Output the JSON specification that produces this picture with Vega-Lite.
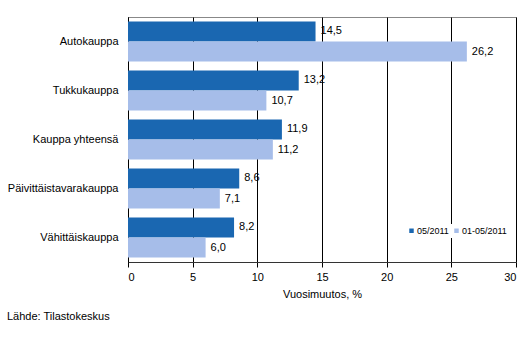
{
  "$schema": "https://vega.github.io/schema/vega-lite/v6.json",
  "width": 388,
  "height": 245,
  "autosize": {"type": "none"},
  "padding": {"left": 128, "top": 17, "right": 16, "bottom": 96},
  "background": "white",
  "config": {
    "font": "Liberation Sans",
    "locale": {"number": {"decimal": ",", "thousands": " ", "grouping": [3], "currency": ["", " €"]}},
    "view": {"stroke": "#888888", "strokeWidth": 1}
  },
  "title": {
    "text": "Lähde: Tilastokeskus",
    "orient": "bottom",
    "anchor": "start",
    "frame": "group",
    "dx": -121,
    "offset": 12,
    "fontSize": 11,
    "fontWeight": "normal",
    "color": "#000000",
    "font": "Liberation Sans"
  },
  "data": {
    "values": [
      {"toimiala": "Autokauppa", "sarja": "05/2011", "arvo": 14.5},
      {"toimiala": "Autokauppa", "sarja": "01-05/2011", "arvo": 26.2},
      {"toimiala": "Tukkukauppa", "sarja": "05/2011", "arvo": 13.2},
      {"toimiala": "Tukkukauppa", "sarja": "01-05/2011", "arvo": 10.7},
      {"toimiala": "Kauppa yhteensä", "sarja": "05/2011", "arvo": 11.9},
      {"toimiala": "Kauppa yhteensä", "sarja": "01-05/2011", "arvo": 11.2},
      {"toimiala": "Päivittäistavarakauppa", "sarja": "05/2011", "arvo": 8.6},
      {"toimiala": "Päivittäistavarakauppa", "sarja": "01-05/2011", "arvo": 7.1},
      {"toimiala": "Vähittäiskauppa", "sarja": "05/2011", "arvo": 8.2},
      {"toimiala": "Vähittäiskauppa", "sarja": "01-05/2011", "arvo": 6.0}
    ]
  },
  "encoding": {
    "y": {
      "field": "toimiala",
      "type": "nominal",
      "sort": ["Autokauppa", "Tukkukauppa", "Kauppa yhteensä", "Päivittäistavarakauppa", "Vähittäiskauppa"],
      "scale": {"paddingInner": 0.18, "paddingOuter": 0.09},
      "axis": {
        "title": null,
        "ticks": false,
        "domainColor": "#000000",
        "labelFontSize": 11,
        "labelColor": "#000000",
        "labelPadding": 10,
        "grid": false
      }
    },
    "yOffset": {
      "field": "sarja",
      "type": "nominal",
      "sort": ["05/2011", "01-05/2011"],
      "scale": {"paddingInner": 0, "paddingOuter": 0}
    },
    "x": {
      "field": "arvo",
      "type": "quantitative",
      "scale": {"domain": [0, 30], "nice": false},
      "axis": {
        "title": "Vuosimuutos, %",
        "titleFontSize": 11,
        "titleFontWeight": "normal",
        "titleColor": "#000000",
        "titlePadding": 6,
        "values": [0, 5, 10, 15, 20, 25, 30],
        "format": "d",
        "labelFontSize": 11,
        "labelColor": "#000000",
        "labelPadding": 4,
        "tickSize": 5,
        "tickColor": "#000000",
        "domainColor": "#333333",
        "grid": true,
        "gridColor": "#000000",
        "gridOpacity": 1,
        "gridWidth": 1
      }
    }
  },
  "layer": [
    {
      "mark": {"type": "bar"},
      "encoding": {
        "color": {
          "field": "sarja",
          "type": "nominal",
          "sort": ["05/2011", "01-05/2011"],
          "scale": {"domain": ["05/2011", "01-05/2011"], "range": ["#1a67b1", "#a6bde9"]},
          "legend": {
            "title": null,
            "orient": "none",
            "legendX": 277,
            "legendY": 207,
            "direction": "horizontal",
            "symbolType": "square",
            "symbolSize": 20,
            "symbolStrokeWidth": 0,
            "labelFontSize": 9,
            "labelColor": "#000000",
            "labelOffset": 1,
            "columnPadding": 3,
            "fillColor": "white",
            "padding": 2
          }
        }
      }
    },
    {
      "mark": {"type": "text", "align": "left", "baseline": "middle", "dx": 5, "fontSize": 11, "color": "#000000"},
      "encoding": {
        "text": {"field": "arvo", "type": "quantitative", "format": ".1f"}
      }
    }
  ]
}
